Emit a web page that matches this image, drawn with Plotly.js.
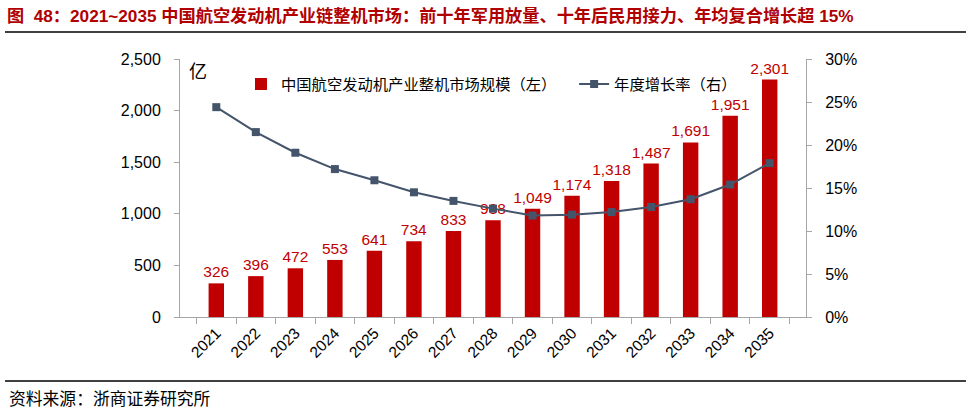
<!DOCTYPE html>
<html>
<head>
<meta charset="utf-8">
<script src="https://cdn.plot.ly/plotly-3.0.1.min.js"></script>
<style>html,body{margin:0;padding:0;background:#fff;}#chart{width:970px;height:412px;}</style>
</head>
<body>
<div id="chart"></div>
<script>
var years = ['2021','2022','2023','2024','2025','2026','2027','2028','2029','2030','2031','2032','2033','2034','2035'];
var marketSize = [326, 396, 472, 553, 641, 734, 833, 938, 1049, 1174, 1318, 1487, 1691, 1951, 2301];
var growthRate = [0.244, 0.215, 0.191, 0.172, 0.159, 0.145, 0.135, 0.126, 0.118, 0.119, 0.122, 0.128, 0.137, 0.154, 0.179];
var leftTicks = [0, 500, 1000, 1500, 2000, 2500];
var rightTicks = [0, 0.05, 0.10, 0.15, 0.20, 0.25, 0.30];

var W = 970, H = 412, L = 180, R = 806, T = 59, B = 317;
function px(x){ return (x - L) / (R - L); }
function py(y){ return (B - y) / (B - T); }

var FONT = 'Liberation Sans, Noto Sans CJK SC, sans-serif';
var axisColor = '#A6A6A6';

var traces = [
  {
    type: 'bar', x: years, y: marketSize, name: '中国航空发动机产业整机市场规模（左）&nbsp;&nbsp;&nbsp;',
    marker: {color: '#C00000'},
    text: marketSize.map(function(v){ return v.toLocaleString('en-US'); }),
    textposition: 'outside', cliponaxis: false, constraintext: 'none',
    textfont: {color: '#C00000', size: 15.5, family: FONT},
    hoverinfo: 'none'
  },
  {
    type: 'scatter', mode: 'lines+markers', x: years, y: growthRate, yaxis: 'y2',
    name: '年度增长率（右）',
    line: {color: '#44546A', width: 2},
    marker: {symbol: 'square', size: 8, color: '#44546A'},
    hoverinfo: 'none'
  }
];

var layout = {
  width: W, height: H,
  margin: {l: L, r: W - R, t: T, b: H - B, pad: 0},
  paper_bgcolor: '#fff', plot_bgcolor: '#fff',
  font: {family: FONT, size: 15, color: '#000'},
  bargap: 0.61,
  showlegend: true,
  legend: {
    orientation: 'h', x: px(241), xanchor: 'left', y: py(84), yanchor: 'middle',
    font: {size: 15.3, color: '#000', family: FONT}, bgcolor: 'rgba(0,0,0,0)',
    traceorder: 'normal', itemwidth: 30
  },
  title: {
    text: '<b>图&nbsp; 48：2021~2035 中国航空发动机产业链整机市场：前十年军用放量、十年后民用接力、年均复合增长超 15%</b>',
    font: {family: FONT, size: 17.2, color: '#B00000'},
    xref: 'container', yref: 'container', x: 7 / W, xanchor: 'left', y: 1 - 16 / H, yanchor: 'middle'
  },
  xaxis: {
    type: 'category', showline: true, linecolor: axisColor, linewidth: 1,
    ticks: 'outside', tickson: 'boundaries', ticklen: 6, tickcolor: axisColor,
    tickangle: -45, tickfont: {size: 15.5, color: '#000'}, showgrid: false, zeroline: false,
    fixedrange: true
  },
  yaxis: {
    range: [0, 2500], tickvals: leftTicks, ticktext: leftTicks.map(function(v){ return v.toLocaleString('en-US'); }),
    showline: true, linecolor: axisColor, linewidth: 1, ticks: 'outside', ticklen: 5, tickcolor: axisColor,
    showgrid: false, zeroline: false, tickfont: {size: 16, color: '#000'}, ticklabelstandoff: 10,
    fixedrange: true
  },
  yaxis2: {
    range: [0, 0.30], overlaying: 'y', side: 'right', tickvals: rightTicks,
    ticktext: rightTicks.map(function(v){ return Math.round(v * 100) + '%'; }),
    showline: true, linecolor: axisColor, linewidth: 1, ticks: 'outside', ticklen: 5, tickcolor: axisColor,
    showgrid: false, zeroline: false, tickfont: {size: 16, color: '#000'}, ticklabelstandoff: 10,
    fixedrange: true
  },
  shapes: [
    {type: 'line', xref: 'paper', yref: 'paper', x0: px(5), x1: px(966), y0: py(32), y1: py(32), line: {color: '#000', width: 1.5}},
    {type: 'line', xref: 'paper', yref: 'paper', x0: px(5), x1: px(966), y0: py(381), y1: py(381), line: {color: '#000', width: 1.5}}
  ],
  annotations: [
    {text: '亿', xref: 'paper', yref: 'paper', x: px(187), y: py(72), xanchor: 'left', yanchor: 'middle', showarrow: false, font: {size: 18, color: '#000'}},
    {text: '资料来源：浙商证券研究所', xref: 'paper', yref: 'paper', x: px(7), y: py(398), xanchor: 'left', yanchor: 'middle', showarrow: false, font: {size: 16.8, color: '#000', family: 'Noto Sans CJK SC, sans-serif'}}
  ]
};

Plotly.newPlot('chart', traces, layout, {displayModeBar: false, staticPlot: true});
</script>
</body>
</html>
